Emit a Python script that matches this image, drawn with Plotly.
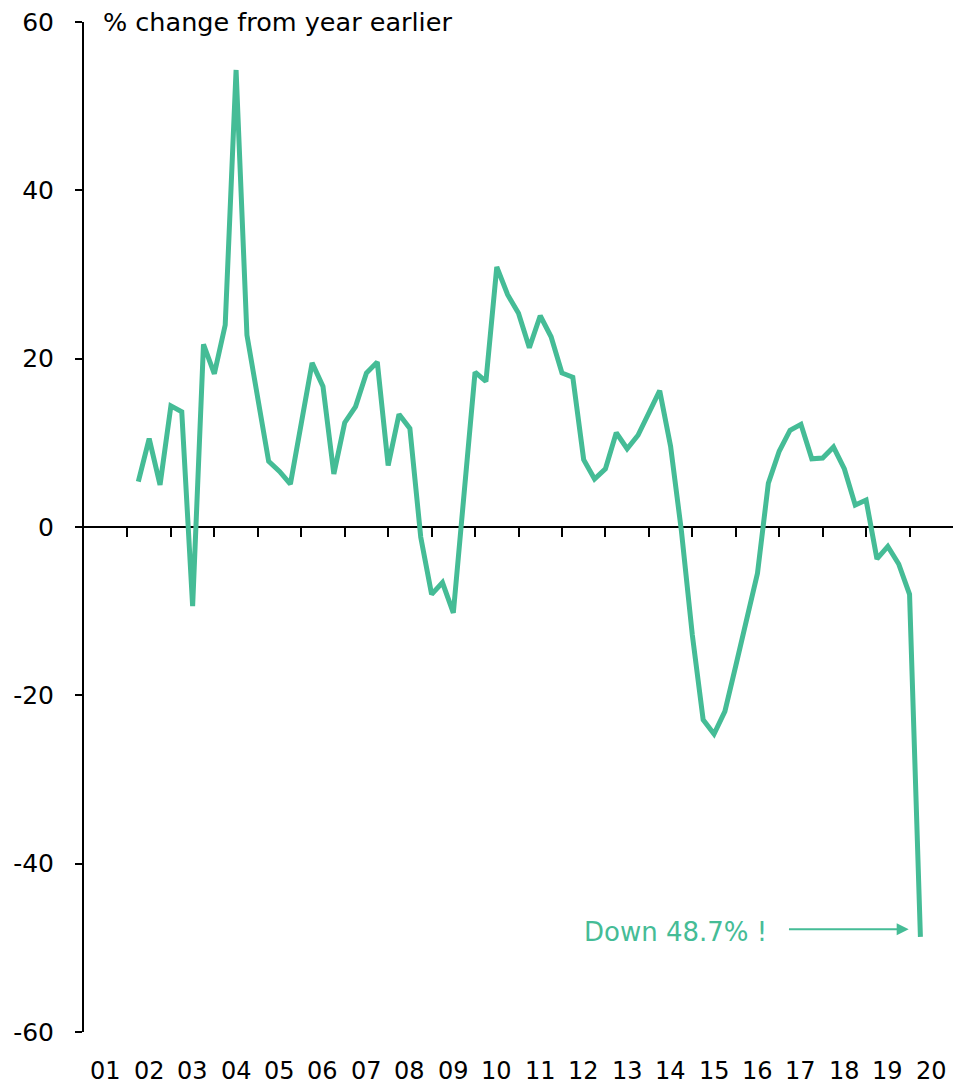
import plotly.graph_objects as go

# Quarterly year-on-year growth, 2002 Q1 to 2020 Q1
years = list(range(2002, 2021))
quarters_per_year = 4
growth = [
    5.4, 10.5, 5.0, 14.4,       # 2002
    13.7, -9.4, 21.7, 18.2,     # 2003
    24.0, 54.3, 22.8, 15.7,     # 2004
    7.8, 6.6, 5.1, 12.3,        # 2005
    19.5, 16.7, 6.3, 12.4,      # 2006
    14.3, 18.3, 19.6, 7.3,      # 2007
    13.4, 11.7, -1.2, -8.0,     # 2008
    -6.6, -10.2, 3.9, 18.4,     # 2009
    17.3, 30.9, 27.6, 25.4,     # 2010
    21.3, 25.1, 22.6, 18.3,     # 2011
    17.8, 8.0, 5.7, 6.9,        # 2012
    11.2, 9.3, 10.9, 13.6,      # 2013
    16.2, 9.6, -0.5, -12.8,     # 2014
    -22.9, -24.6, -21.9, -16.5, # 2015
    -11.1, -5.5, 5.2, 9.0,      # 2016
    11.5, 12.2, 8.1, 8.2,       # 2017
    9.5, 6.9, 2.6, 3.2,         # 2018
    -3.8, -2.3, -4.4, -8.0,     # 2019
    -48.7,                      # 2020 Q1
]
year_labels = ["01", "02", "03", "04", "05", "06", "07", "08", "09", "10",
               "11", "12", "13", "14", "15", "16", "17", "18", "19", "20"]
y_ticks = [-60, -40, -20, 0, 20, 40, 60]
y_tick_text = ["-60", "-40", "-20", "0", "20", "40", "60"]

BASE_YEAR = 2001
# each point sits at the end of its quarter, in years since the start of 2001
x_pos = []
for i in range(len(growth)):
    year = years[i // quarters_per_year]
    q = i % quarters_per_year + 1
    x_pos.append(year - BASE_YEAR + q / quarters_per_year)

GREEN = "#45bc96"
FONT = "DejaVu Sans"

fig = go.Figure()
fig.add_trace(go.Scatter(
    x=x_pos, y=growth, mode="lines",
    line=dict(color=GREEN, width=5),
    hoverinfo="skip", showlegend=False,
))

n_years = len(year_labels)
fig.update_layout(
    width=953, height=1087,
    margin=dict(l=84, r=0, t=22, b=55),
    paper_bgcolor="white", plot_bgcolor="white",
    font=dict(family=FONT, size=24, color="black"),
    # the x axis runs along zero, with a tick at each year boundary
    xaxis=dict(
        range=[0, n_years],
        anchor="free", position=0.5, side="bottom",
        tickvals=list(range(1, n_years)),
        showticklabels=False,
        ticks="outside", ticklen=9, tickwidth=2, tickcolor="black",
        showline=True, linecolor="black", linewidth=2,
        showgrid=False, zeroline=False, layer="below traces",
    ),
    yaxis=dict(
        range=[-60, 60],
        tickvals=y_ticks, ticktext=y_tick_text,
        ticks="outside", ticklen=7, tickwidth=2, tickcolor="black",
        showline=True, linecolor="black", linewidth=2,
        showgrid=False, zeroline=False,
        ticklabelstandoff=16,
        tickfont=dict(size=25),
    ),
)

# year labels centred under each year, along the bottom edge
for i, lab in enumerate(year_labels):
    fig.add_annotation(
        text=lab, xref="x", yref="paper", x=i + 0.5, y=0,
        xanchor="center", yanchor="middle", yshift=-39,
        showarrow=False, borderpad=0, font=dict(size=24, color="black"),
    )

fig.add_annotation(
    text="% change from year earlier",
    xref="paper", yref="paper", x=0, y=1,
    xanchor="left", yanchor="middle", xshift=17,
    showarrow=False, font=dict(size=25.5, color="black"),
)

# arrow pointing at the latest reading
last_x, last_y = x_pos[-1], growth[-1]
fig.add_annotation(
    x=last_x - 0.27, y=last_y + 0.9, xref="x", yref="y",
    ax=16.19, ay=last_y + 0.9, axref="x", ayref="y",
    text="", showarrow=True, arrowhead=2, arrowsize=1.2,
    arrowwidth=2, arrowcolor=GREEN,
)
fig.add_annotation(
    x=15.76, y=last_y + 0.6, xref="x", yref="y",
    text=f"Down {abs(last_y)}% !", showarrow=False,
    xanchor="right", yanchor="middle",
    font=dict(size=26, color=GREEN),
)

fig.write_html("out.html")
